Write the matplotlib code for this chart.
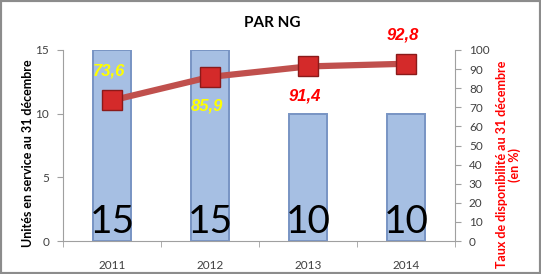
import matplotlib
matplotlib.use("Agg")
import matplotlib.pyplot as plt
from matplotlib.patches import Rectangle
import numpy as np

years = ["2011", "2012", "2013", "2014"]
units = [15, 15, 10, 10]
rates = [73.6, 85.9, 91.4, 92.8]
rate_labels = ["73,6", "85,9", "91,4", "92,8"]
label_colors = ["#FFFF00", "#FFFF00", "#FF0000", "#FF0000"]
label_above = [True, False, False, True]

plt.rcParams['font.family'] = ['Lato', 'DejaVu Sans']

W, H = 541, 274
fig = plt.figure(figsize=(W / 100, H / 100), dpi=100)
fig.patch.set_facecolor("white")
fig.add_artist(Rectangle((0, 0), 1, 1, transform=fig.transFigure, fill=False,
                         edgecolor="#8C8C8C", linewidth=3))

x0, x1, y0, y1 = 63, 455, 50, 241
ax = fig.add_axes([x0 / W, 1 - y1 / H, (x1 - x0) / W, (y1 - y0) / H])
x = np.arange(len(years))
ax.bar(x, units, width=0.39, color="#A6BFE3", edgecolor="#7894C4", linewidth=1.4, zorder=2)
ax.set_xlim(-0.5, 3.5)
ax.set_ylim(0, 15)
ax.set_yticks([0, 5, 10, 15])
ax.set_xticks(x)
ax.set_xticklabels(years)
ax.set_xticks(np.arange(-0.5, 4, 1), minor=True)
ax.tick_params(axis='x', which='major', length=0, pad=14, labelsize=8.5, colors="#404040")
ax.tick_params(axis='x', which='minor', length=4, color="#A0A0A0", direction='out')
ax.tick_params(axis='y', length=4, color="#A0A0A0", labelsize=8.5, labelcolor="#404040", pad=6)
for s in ["top", "right"]:
    ax.spines[s].set_visible(False)
for s in ["left", "bottom"]:
    ax.spines[s].set_color("#A0A0A0")
ax.set_ylabel("Unités en service au 31 décembre", fontsize=9, fontweight="bold")
ax.yaxis.set_label_coords(-0.075, 0.46)
for xi, v in zip(x, units):
    ax.annotate(str(v), (xi, 0), xytext=(0, 1), textcoords="offset points",
                ha="center", va="bottom", fontsize=28, color="black", zorder=5)

ax2 = ax.twinx()
ax2.set_ylim(0, 100)
ax2.set_yticks(range(0, 101, 10))
ax2.plot(x, rates, color="#C0504D", linewidth=4.5, zorder=3)
ax2.plot(x, rates, linestyle="none", marker="s", markersize=15,
         markerfacecolor="#D42A2A", markeredgecolor="#8B1A1A", markeredgewidth=1, zorder=4)
for s in ["top", "left", "bottom"]:
    ax2.spines[s].set_visible(False)
ax2.spines["right"].set_color("#A0A0A0")
ax2.tick_params(axis='y', length=4, color="#A0A0A0", labelsize=8.5, labelcolor="#404040", pad=6)
ax2.set_ylabel("Taux de disponibilité au 31 décembre\n(en %)", fontsize=9,
               fontweight="bold", color="#FF0000", linespacing=1.0)
ax2.yaxis.set_label_coords(1.105, 0.4)
for xi, v, lab, c, up in zip(x, rates, rate_labels, label_colors, label_above):
    dy = 21 if up else -21
    ax2.annotate(lab, (xi, v), xytext=(-2, dy), textcoords="offset points",
                 ha="center", va="center", fontsize=12, fontweight="bold",
                 fontstyle="italic", color=c, zorder=6,
                 family=["Liberation Sans", "DejaVu Sans"])

fig.text(272 / W, 1 - 23 / H, "PAR NG", ha="center", va="center",
         fontsize=11, fontweight="bold")

fig.savefig("out.png", dpi=100)
